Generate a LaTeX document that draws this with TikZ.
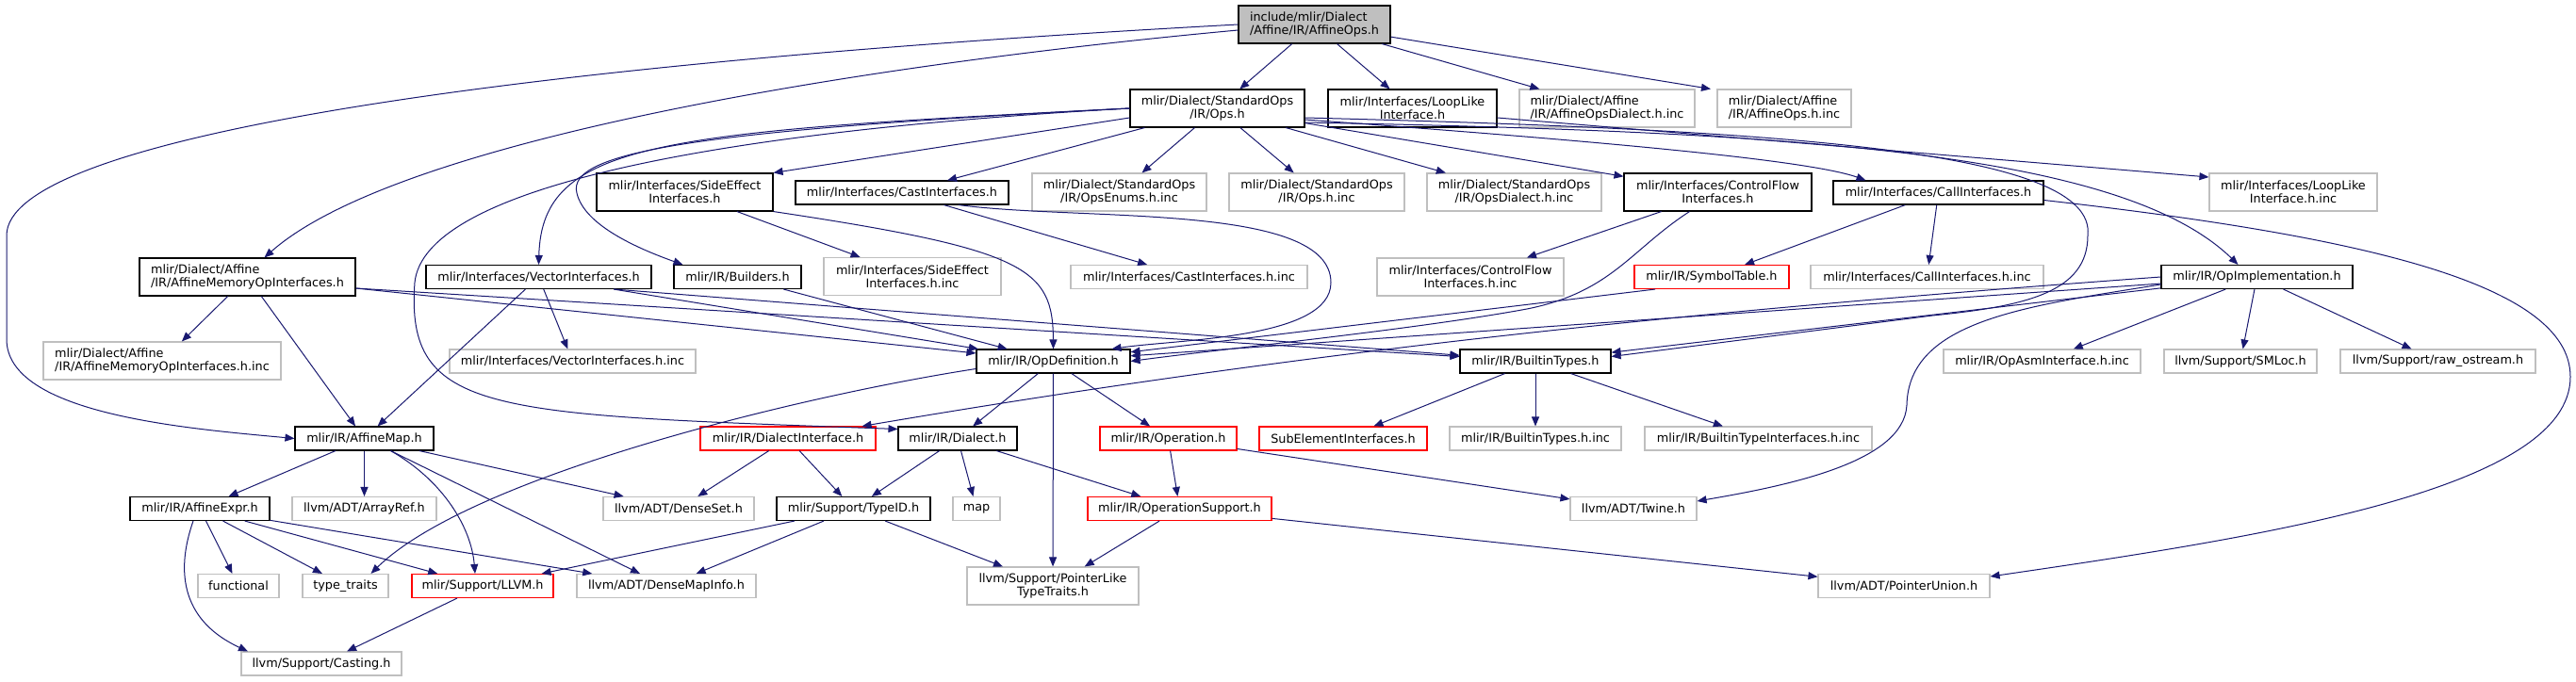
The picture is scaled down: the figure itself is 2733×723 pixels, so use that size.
\documentclass[tikz,border=0pt]{standalone}
\usepackage{fontspec}
\setmainfont{DejaVu Sans}
\usetikzlibrary{arrows.meta}
\definecolor{edgeblue}{HTML}{191970}
\definecolor{sysgray}{HTML}{BFBFBF}

\begin{document}
\begin{tikzpicture}[
    x=1pt, y=-1pt,
    file/.style={draw, line width=1.1pt, align=center, inner sep=0pt, font=\fontsize{12.8}{14}\selectfont, minimum height=25pt},
    tall/.style={minimum height=40pt},
    ext/.style={file, draw=sysgray},
    trunc/.style={file, draw=red},
    root/.style={file, fill=sysgray, tall},
    edge/.style={-{Triangle[length=10pt,width=8pt]}, draw=edgeblue, line width=1pt}
  ]
    \path[use as bounding box, fill=white] (0,0) rectangle (2733,723);

    \node[root, align=left, minimum width=161pt] (affops) at (1394.5,26) {include/mlir/Dialect\\/Affine/IR/AffineOps.h};

    \node[file, tall, minimum width=185pt] (stdops) at (1291.5,115) {mlir/Dialect/StandardOps\\/IR/Ops.h};
    \node[file, tall, minimum width=179pt] (looplike) at (1498.5,115) {mlir/Interfaces/LoopLike\\Interface.h};
    \node[ext, tall, align=left, minimum width=186pt] (affdialinc) at (1705,115) {mlir/Dialect/Affine\\/IR/AffineOpsDialect.h.inc};
    \node[ext, tall, align=left, minimum width=142pt] (affopsinc) at (1893,115) {mlir/Dialect/Affine\\/IR/AffineOps.h.inc};

    \node[file, tall, minimum width=187pt] (sideeff) at (726.5,204) {mlir/Interfaces/SideEffect\\Interfaces.h};
    \node[file, minimum width=226pt] (castif) at (957,204.5) {mlir/Interfaces/CastInterfaces.h};
    \node[ext, tall, minimum width=185pt] (opsenums) at (1187.5,204) {mlir/Dialect/StandardOps\\/IR/OpsEnums.h.inc};
    \node[ext, tall, minimum width=186pt] (opsinc) at (1397,204) {mlir/Dialect/StandardOps\\/IR/Ops.h.inc};
    \node[ext, tall, minimum width=185pt] (opsdialinc) at (1606.5,204) {mlir/Dialect/StandardOps\\/IR/OpsDialect.h.inc};
    \node[file, tall, minimum width=199pt] (cfif) at (1822.5,204) {mlir/Interfaces/ControlFlow\\Interfaces.h};
    \node[file, minimum width=223pt] (callif) at (2056.5,204.5) {mlir/Interfaces/CallInterfaces.h};
    \node[ext, tall, minimum width=178pt] (looplikeinc) at (2433,204) {mlir/Interfaces/LoopLike\\Interface.h.inc};

    \node[file, tall, align=left, minimum width=229pt] (memif) at (262.5,294) {mlir/Dialect/Affine\\/IR/AffineMemoryOpInterfaces.h};
    \node[file, minimum width=239pt] (vecif) at (571.5,294) {mlir/Interfaces/VectorInterfaces.h};
    \node[file, minimum width=135pt] (builders) at (782.5,294) {mlir/IR/Builders.h};
    \node[ext, tall, minimum width=188pt] (seinc) at (968,293.5) {mlir/Interfaces/SideEffect\\Interfaces.h.inc};
    \node[ext, minimum width=251pt] (castinc) at (1261.5,294) {mlir/Interfaces/CastInterfaces.h.inc};
    \node[ext, tall, minimum width=198pt] (cfinc) at (1560,294) {mlir/Interfaces/ControlFlow\\Interfaces.h.inc};
    \node[trunc, minimum width=164pt] (symtab) at (1816,294) {mlir/IR/SymbolTable.h};
    \node[ext, minimum width=247pt] (callinc) at (2044.5,294) {mlir/Interfaces/CallInterfaces.h.inc};
    \node[file, minimum width=203pt] (opimpl) at (2394.5,294) {mlir/IR/OpImplementation.h};

    \node[ext, tall, align=left, minimum width=252pt] (meminc) at (172,383) {mlir/Dialect/Affine\\/IR/AffineMemoryOpInterfaces.h.inc};
    \node[ext, minimum width=261pt] (vecinc) at (607.5,383.5) {mlir/Interfaces/VectorInterfaces.h.inc};
    \node[file, minimum width=163pt] (opdef) at (1117.5,383.5) {mlir/IR/OpDefinition.h};
    \node[file, minimum width=160pt] (builtin) at (1629,383.5) {mlir/IR/BuiltinTypes.h};
    \node[ext, minimum width=209pt] (opasminc) at (2166.5,383.5) {mlir/IR/OpAsmInterface.h.inc};
    \node[ext, minimum width=162pt] (smloc) at (2377,383.5) {llvm/Support/SMLoc.h};
    \node[ext, minimum width=207pt] (rawos) at (2586.5,383.5) {llvm/Support/raw\_ostream.h};

    \node[file, minimum width=147pt] (affmap) at (386.5,465.5) {mlir/IR/AffineMap.h};
    \node[trunc, minimum width=186pt] (dialif) at (836,465.5) {mlir/IR/DialectInterface.h};
    \node[file, minimum width=126pt] (dialect) at (1016,465.5) {mlir/IR/Dialect.h};
    \node[trunc, minimum width=145pt] (operation) at (1239.5,465.5) {mlir/IR/Operation.h};
    \node[trunc, minimum width=178pt] (subelem) at (1425,465.5) {SubElementInterfaces.h};
    \node[ext, minimum width=182pt] (btinc) at (1629,465.5) {mlir/IR/BuiltinTypes.h.inc};
    \node[ext, minimum width=241pt] (btiinc) at (1865.5,465.5) {mlir/IR/BuiltinTypeInterfaces.h.inc};

    \node[file, minimum width=148pt] (affexpr) at (212,540) {mlir/IR/AffineExpr.h};
    \node[ext, minimum width=153pt] (arrayref) at (386.5,540) {llvm/ADT/ArrayRef.h};
    \node[ext, minimum width=160pt] (denseset) at (720,540) {llvm/ADT/DenseSet.h};
    \node[file, minimum width=163pt] (typeid) at (905.5,540) {mlir/Support/TypeID.h};
    \node[ext, minimum width=50pt] (mapinc) at (1036,540) {map};
    \node[trunc, minimum width=195pt] (opsupport) at (1251.5,540) {mlir/IR/OperationSupport.h};
    \node[ext, minimum width=134pt] (twine) at (1733,540) {llvm/ADT/Twine.h};

    \node[ext, minimum width=86pt] (functional) at (253,622) {functional};
    \node[ext, minimum width=91pt] (typetraits) at (366.5,622) {type\_traits};
    \node[trunc, minimum width=150pt] (llvmh) at (512,622) {mlir/Support/LLVM.h};
    \node[ext, minimum width=190pt] (densemap) at (707,622) {llvm/ADT/DenseMapInfo.h};
    \node[ext, tall, minimum width=182pt] (ptrlike) at (1117,622) {llvm/Support/PointerLike\\TypeTraits.h};
    \node[ext, minimum width=182pt] (ptrunion) at (2020,622) {llvm/ADT/PointerUnion.h};

    \node[ext, minimum width=170pt] (casting) at (341,704.5) {llvm/Support/Casting.h};

    \draw[edge] (affops.west) .. controls (500,70) and (7,150) .. (7,250) -- (7,360) .. controls (7,440) and (200,455) .. (affmap.west);
    \draw[edge] ([yshift=-6pt]affops.west) .. controls (900,70) and (420,150) .. ([xshift=18pt]memif.north);
    \draw[edge] (affops) -- (stdops);
    \draw[edge] (affops) -- (looplike);
    \draw[edge] (affops) -- (affdialinc);
    \draw[edge] (affops) -- ([xshift=-78pt]affopsinc.north);

    \draw[edge] (stdops.west) .. controls (700,140) and (575,150) .. (vecif.north);
    \draw[edge] (stdops.west) .. controls (750,138) and (600,160) .. (612,205) .. controls (620,240) and (680,265) .. ([xshift=10pt]builders.north west);
    \draw[edge] (stdops.west) .. controls (750,140) and (450,200) .. (440,300) .. controls (430,440) and (520,440) .. ([yshift=10pt]dialect.west);
    \draw[edge] ([yshift=-10pt]stdops.west) -- (sideeff.north east);
    \draw[edge] ([xshift=16pt]stdops.south west) -- ([xshift=48pt]castif.north);
    \draw[edge] (stdops) -- (opsenums);
    \draw[edge] (stdops) -- (opsinc);
    \draw[edge] (stdops) -- (opsdialinc);
    \draw[edge] (stdops) -- (cfif);
    \draw[edge] ([yshift=-12pt]stdops.east) .. controls (1700,150) and (1920,170) .. ([xshift=-77pt]callif.north);
    \draw[edge] ([yshift=-15pt]stdops.east) .. controls (1900,140) and (2250,160) .. ([xshift=-20pt]opimpl.north);
    \draw[edge] ([yshift=-10pt]stdops.east) .. controls (1900,138) and (2225,160) .. (2215,250) .. controls (2215,310) and (2150,325) .. (2050,335) -- ([yshift=5pt]builtin.east);

    \draw[edge] ([yshift=-10pt]looplike.east) -- ([yshift=16pt]looplikeinc.west);

    \draw[edge] (memif) -- (affmap);
    \draw[edge] (memif) -- (meminc);
    \draw[edge] ([yshift=-12pt]memif.east) -- (opdef);
    \draw[edge] ([yshift=-12pt]memif.east) -- (builtin);
    \draw[edge] (vecif) -- (affmap);
    \draw[edge] (vecif) -- (vecinc);
    \draw[edge] (vecif) -- (opdef);
    \draw[edge] ([xshift=-40pt]vecif.south east) -- (builtin);
    \draw[edge] (builders) -- (opdef);
    \draw[edge] (sideeff) -- (seinc);
    \draw[edge] (sideeff.south east) .. controls (1090,265) and (1117,285) .. (opdef.north);
    \draw[edge] (castif) -- (castinc);
    \draw[edge] ([xshift=60pt]castif.south) .. controls (1150,235) and (1412,215) .. (1412,300) .. controls (1412,360) and (1250,360) .. ([xshift=62pt]opdef.north);
    \draw[edge] (cfif) -- (cfinc);
    \draw[edge] ([xshift=-30pt]cfif.south) .. controls (1730,265) and (1710,310) .. (1620,328) .. controls (1500,350) and (1300,370) .. (opdef.east);
    \draw[edge] (callif) -- (symtab);
    \draw[edge] (callif) -- (callinc);
    \draw[edge] ([yshift=-8pt]callif.east) .. controls (2500,250) and (2727,300) .. (2727,400) .. controls (2727,520) and (2400,570) .. ([yshift=10pt]ptrunion.east);
    \draw[edge] ([xshift=-60pt]symtab.south) -- (opdef);

    \draw[edge] (opimpl) -- (opasminc);
    \draw[edge] (opimpl) -- (smloc);
    \draw[edge] (opimpl) -- (rawos);
    \draw[edge] ([yshift=-8pt]opimpl.west) .. controls (2150,325) and (2025,340) .. (2023,430) .. controls (2020,490) and (1900,515) .. ([yshift=8pt]twine.east);
    \draw[edge] (opimpl.west) .. controls (1800,330) and (1400,370) .. ([xshift=-15pt]dialif.north east);
    \draw[edge] (opimpl) -- (opdef);
    \draw[edge] (opimpl) -- (builtin);

    \draw[edge] (opdef) -- (dialect);
    \draw[edge] (opdef) -- (ptrlike);
    \draw[edge] (opdef) -- (operation);
    \draw[edge] ([yshift=-8pt]opdef.west) .. controls (850,420) and (500,505) .. ([xshift=27pt]typetraits.north);
    \draw[edge] (builtin) -- (subelem);
    \draw[edge] (builtin) -- (btinc);
    \draw[edge] (builtin) -- (btiinc);

    \draw[edge] (dialif) -- (denseset);
    \draw[edge] (dialif) -- (typeid);
    \draw[edge] (dialect) -- (typeid);
    \draw[edge] (dialect) -- (mapinc);
    \draw[edge] (dialect) -- (opsupport);
    \draw[edge] (operation) -- (opsupport);
    \draw[edge] (operation) -- (twine);
    \draw[edge] (opsupport) -- (ptrlike);
    \draw[edge] (opsupport) -- (ptrunion);
    \draw[edge] (typeid) -- (llvmh);
    \draw[edge] (typeid) -- (densemap);
    \draw[edge] (typeid) -- (ptrlike);

    \draw[edge] (affmap) -- (affexpr);
    \draw[edge] (affmap) -- (arrayref);
    \draw[edge] ([xshift=28pt]affmap.south) .. controls (470,510) and (500,560) .. ([xshift=-8pt]llvmh.north);
    \draw[edge] ([xshift=28pt]affmap.south) -- ([xshift=-28pt]densemap.north);
    \draw[edge] (affmap) -- (denseset);
    \draw[edge] (affexpr) -- (functional);
    \draw[edge] (affexpr) -- (typetraits);
    \draw[edge] (affexpr) -- (llvmh);
    \draw[edge] (affexpr) -- (densemap);
    \draw[edge] ([xshift=-7pt]affexpr.south) .. controls (185,610) and (195,660) .. ([xshift=-78pt]casting.north);
    \draw[edge] (llvmh) -- (casting);
  \end{tikzpicture}
\end{document}
